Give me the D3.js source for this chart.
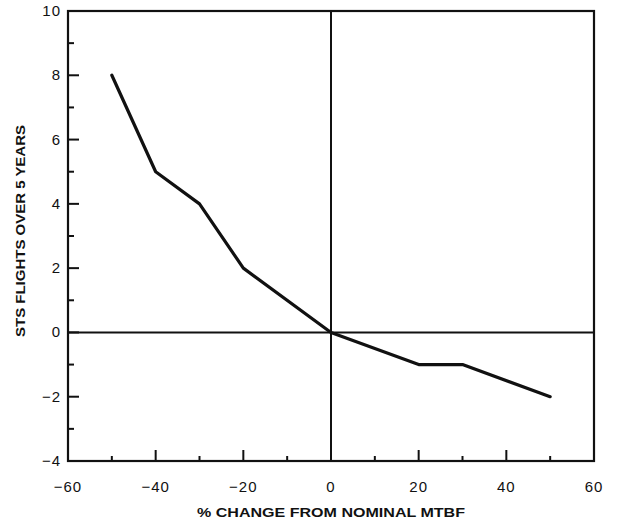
<!DOCTYPE html>
<html><head><meta charset="utf-8">
<script src="https://cdn.jsdelivr.net/npm/d3@7"></script>
<style>body{margin:0;background:#fff}svg{display:block}</style>
</head><body>
<script>
const changePct = [-50, -40, -30, -20, 0, 20, 30, 50];
const flights = [8, 5, 4, 2, 0, -1, -1, -2];
const xTickLabels = [-60, -40, -20, 0, 20, 40, 60];
const yTickLabels = [-4, -2, 0, 2, 4, 6, 8, 10];
const xTitle = "% CHANGE FROM NOMINAL MTBF";
const yTitle = "STS FLIGHTS OVER 5 YEARS";

const W = 619, H = 524;
const m = {l: 68, r: 25, t: 11, b: 63};
const svg = d3.select("body").append("svg").attr("width", W).attr("height", H);
const x = d3.scaleLinear().domain([-60, 60]).range([m.l, W - m.r]);
const y = d3.scaleLinear().domain([-4, 10]).range([H - m.b, m.t]);
const ink = "#111";
const font = "Liberation Sans, Arial, sans-serif";

// minor/major ticks (inward)
const xt = d3.range(-60, 61, 10);
svg.append("g").selectAll("line").data(xt).join("line")
  .attr("x1", d => x(d)).attr("x2", d => x(d))
  .attr("y1", y(-4)).attr("y2", d => y(-4) - (d % 20 === 0 ? 11 : 5))
  .attr("stroke", ink).attr("stroke-width", 2);
const yt = d3.range(-4, 11, 1);
svg.append("g").selectAll("line").data(yt).join("line")
  .attr("y1", d => y(d)).attr("y2", d => y(d))
  .attr("x1", x(-60)).attr("x2", d => x(-60) + (d % 2 === 0 ? 11 : 6))
  .attr("stroke", ink).attr("stroke-width", 2);

// zero lines
svg.append("line").attr("x1", x(-60)).attr("x2", x(60)).attr("y1", y(0)).attr("y2", y(0))
  .attr("stroke", ink).attr("stroke-width", 2);
svg.append("line").attr("x1", x(0)).attr("x2", x(0)).attr("y1", y(10)).attr("y2", y(-4))
  .attr("stroke", ink).attr("stroke-width", 2);

// frame
svg.append("rect").attr("x", x(-60)).attr("y", y(10))
  .attr("width", x(60) - x(-60)).attr("height", y(-4) - y(10))
  .attr("fill", "none").attr("stroke", ink).attr("stroke-width", 2.2);

// tick labels
const fmt = d => d < 0 ? "\u2212" + Math.abs(d) : String(d);
svg.append("g").selectAll("text").data(xTickLabels).join("text")
  .attr("x", d => x(d)).attr("y", y(-4) + 31)
  .attr("text-anchor", "middle").attr("font-family", font).attr("font-size", 15)
  .attr("letter-spacing", 1).attr("fill", ink).text(fmt);
svg.append("g").selectAll("text").data(yTickLabels).join("text")
  .attr("x", x(-60) - 7).attr("y", d => y(d) + 5)
  .attr("text-anchor", "end").attr("font-family", font).attr("font-size", 15)
  .attr("letter-spacing", 1).attr("fill", ink).text(fmt);

// titles
svg.append("text").attr("x", x(0)).attr("y", 517).attr("text-anchor", "middle")
  .attr("font-family", font).attr("font-weight", "bold").attr("font-size", 13)
  .attr("textLength", 268).attr("lengthAdjust", "spacingAndGlyphs")
  .attr("fill", ink).text(xTitle);
svg.append("text").attr("transform", `translate(25,231) rotate(-90)`)
  .attr("text-anchor", "middle").attr("font-family", font).attr("font-weight", "bold")
  .attr("font-size", 13).attr("textLength", 212).attr("lengthAdjust", "spacingAndGlyphs")
  .attr("fill", ink).text(yTitle);

// data line
const pts = changePct.map((c, i) => [c, flights[i]]);
svg.append("path").datum(pts)
  .attr("d", d3.line().x(d => x(d[0])).y(d => y(d[1])))
  .attr("fill", "none").attr("stroke", ink).attr("stroke-width", 3.2)
  .attr("stroke-linejoin", "round").attr("stroke-linecap", "round");
</script>
</body></html>
